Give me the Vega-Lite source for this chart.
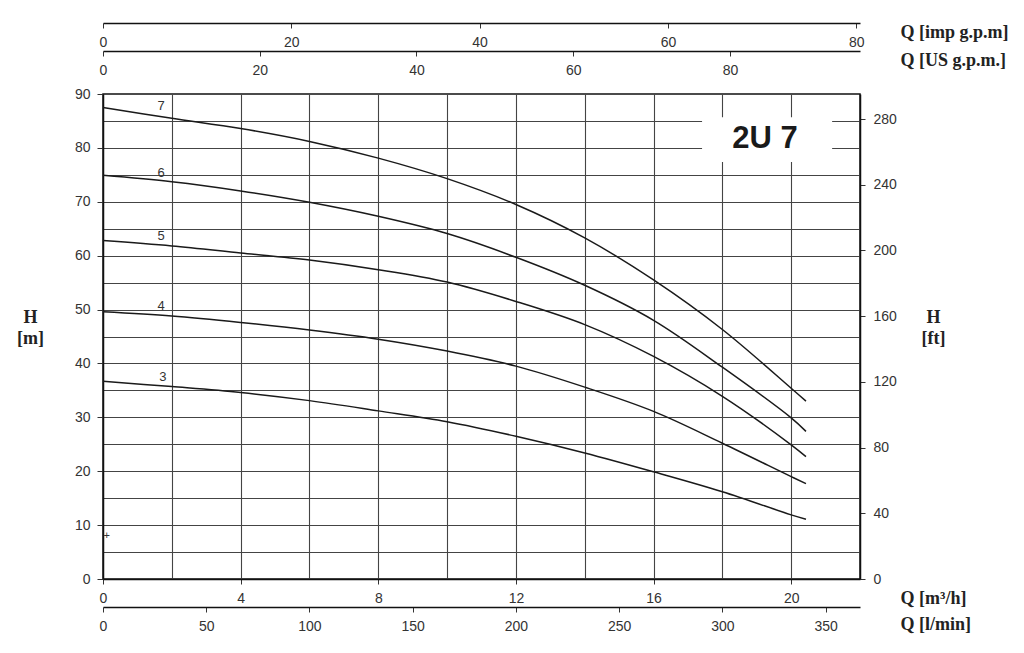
{
  "$schema": "https://vega.github.io/schema/vega-lite/v6.json",
  "autosize": "none",
  "width": 757,
  "height": 485,
  "padding": {"left": 103, "top": 94, "right": 164, "bottom": 74},
  "background": "white",
  "config": {
    "view": {"stroke": "#111", "strokeWidth": 1.5},
    "axis": {
      "labelFont": "Liberation Sans",
      "labelFontSize": 14,
      "labelColor": "#333",
      "tickColor": "#333",
      "domainColor": "#111",
      "titleFont": "Liberation Serif",
      "titleFontWeight": "bold",
      "titleFontSize": 18,
      "titleColor": "#222",
      "labelFlush": false,
      "labelOverlap": false
    }
  },
  "datasets": {
    "curves": [
      {"stages": 7, "Q": 0, "H": 87.5}, {"stages": 7, "Q": 2, "H": 85.5}, {"stages": 7, "Q": 4, "H": 83.6}, {"stages": 7, "Q": 6, "H": 81.2}, {"stages": 7, "Q": 8, "H": 78.1}, {"stages": 7, "Q": 10, "H": 74.3}, {"stages": 7, "Q": 12, "H": 69.5}, {"stages": 7, "Q": 14, "H": 63.3}, {"stages": 7, "Q": 16, "H": 55.5}, {"stages": 7, "Q": 18, "H": 46.3}, {"stages": 7, "Q": 20, "H": 35.4}, {"stages": 7, "Q": 20.43, "H": 33.0},
      {"stages": 6, "Q": 0, "H": 74.9}, {"stages": 6, "Q": 2, "H": 73.7}, {"stages": 6, "Q": 4, "H": 72.0}, {"stages": 6, "Q": 6, "H": 69.9}, {"stages": 6, "Q": 8, "H": 67.3}, {"stages": 6, "Q": 10, "H": 64.1}, {"stages": 6, "Q": 12, "H": 59.7}, {"stages": 6, "Q": 14, "H": 54.5}, {"stages": 6, "Q": 16, "H": 48.0}, {"stages": 6, "Q": 18, "H": 39.3}, {"stages": 6, "Q": 20, "H": 29.9}, {"stages": 6, "Q": 20.43, "H": 27.4},
      {"stages": 5, "Q": 0, "H": 62.8}, {"stages": 5, "Q": 2, "H": 61.8}, {"stages": 5, "Q": 4, "H": 60.5}, {"stages": 5, "Q": 6, "H": 59.2}, {"stages": 5, "Q": 8, "H": 57.4}, {"stages": 5, "Q": 10, "H": 55.1}, {"stages": 5, "Q": 12, "H": 51.5}, {"stages": 5, "Q": 14, "H": 47.2}, {"stages": 5, "Q": 16, "H": 41.3}, {"stages": 5, "Q": 18, "H": 33.9}, {"stages": 5, "Q": 20, "H": 24.9}, {"stages": 5, "Q": 20.43, "H": 22.7},
      {"stages": 4, "Q": 0, "H": 49.6}, {"stages": 4, "Q": 2, "H": 48.8}, {"stages": 4, "Q": 4, "H": 47.6}, {"stages": 4, "Q": 6, "H": 46.2}, {"stages": 4, "Q": 8, "H": 44.5}, {"stages": 4, "Q": 10, "H": 42.3}, {"stages": 4, "Q": 12, "H": 39.5}, {"stages": 4, "Q": 14, "H": 35.6}, {"stages": 4, "Q": 16, "H": 31.1}, {"stages": 4, "Q": 18, "H": 25.2}, {"stages": 4, "Q": 20, "H": 19.0}, {"stages": 4, "Q": 20.43, "H": 17.7},
      {"stages": 3, "Q": 0, "H": 36.7}, {"stages": 3, "Q": 2, "H": 35.7}, {"stages": 3, "Q": 4, "H": 34.6}, {"stages": 3, "Q": 6, "H": 33.1}, {"stages": 3, "Q": 8, "H": 31.2}, {"stages": 3, "Q": 10, "H": 29.2}, {"stages": 3, "Q": 12, "H": 26.5}, {"stages": 3, "Q": 14, "H": 23.4}, {"stages": 3, "Q": 16, "H": 19.9}, {"stages": 3, "Q": 18, "H": 16.2}, {"stages": 3, "Q": 20, "H": 11.9}, {"stages": 3, "Q": 20.43, "H": 11.1}
    ],
    "curveLabels": [
      {"label": "7", "Q": 1.69, "H": 87.8},
      {"label": "6", "Q": 1.69, "H": 75.4},
      {"label": "5", "Q": 1.69, "H": 63.6},
      {"label": "4", "Q": 1.69, "H": 50.6},
      {"label": "3", "Q": 1.74, "H": 37.5}
    ],
    "marker": [{"label": "+", "Q": 0.11, "H": 7.9}],
    "model": [{"label": "2U 7", "Q": 17.41, "Q2": 21.19, "H": 77.4, "H2": 85.7, "Qc": 19.24, "Hc": 81.7}],
    "axisRow": [{"k": 0}]
  },
  "layer": [
    {
      "data": {"name": "axisRow"},
      "mark": {"type": "point", "opacity": 0},
      "encoding": {
        "x": {"datum": 0, "type": "quantitative", "scale": {"domain": [0, 22], "nice": false, "zero": false},
          "axis": {"orient": "bottom", "grid": true, "values": [2, 4, 6, 8, 10, 12, 14, 16, 18, 20], "labels": false, "ticks": false, "domain": false, "title": null, "gridColor": "#444", "gridWidth": 1.1}},
        "y": {"datum": 0, "type": "quantitative", "scale": {"domain": [0, 90], "nice": false, "zero": false},
          "axis": {"orient": "left", "grid": true, "values": [5, 10, 15, 20, 25, 30, 35, 40, 45, 50, 55, 60, 65, 70, 75, 80, 85], "labels": false, "ticks": false, "domain": false, "title": null, "gridColor": "#444", "gridWidth": 1.1}}
      }
    },
    {
      "layer": [
        {
          "data": {"name": "curves"},
          "mark": {"type": "line", "interpolate": "catmull-rom", "color": "#1a1a1a", "strokeWidth": 1.5},
          "encoding": {
            "x": {"field": "Q", "type": "quantitative", "scale": {"domain": [0, 22], "nice": false, "zero": false}, "axis": null},
            "y": {"field": "H", "type": "quantitative", "scale": {"domain": [0, 90], "nice": false, "zero": false}, "axis": null},
            "detail": {"field": "stages", "type": "nominal"}
          }
        },
        {
          "data": {"name": "curveLabels"},
          "mark": {"type": "text", "font": "Liberation Sans", "fontSize": 13, "color": "#333", "baseline": "middle", "align": "center"},
          "encoding": {
            "x": {"field": "Q", "type": "quantitative", "axis": null},
            "y": {"field": "H", "type": "quantitative", "axis": null},
            "text": {"field": "label"}
          }
        },
        {
          "data": {"name": "marker"},
          "mark": {"type": "text", "font": "Liberation Sans", "fontSize": 11, "color": "#333", "baseline": "middle", "align": "center"},
          "encoding": {
            "x": {"field": "Q", "type": "quantitative", "axis": null},
            "y": {"field": "H", "type": "quantitative", "axis": null},
            "text": {"field": "label"}
          }
        },
        {
          "data": {"name": "model"},
          "mark": {"type": "rect", "color": "white"},
          "encoding": {
            "x": {"field": "Q", "type": "quantitative", "axis": null},
            "x2": {"field": "Q2"},
            "y": {"field": "H", "type": "quantitative", "axis": null},
            "y2": {"field": "H2"}
          }
        },
        {
          "data": {"name": "model"},
          "mark": {"type": "text", "font": "Liberation Sans", "fontWeight": "bold", "fontSize": 31, "color": "#1a1a1a", "baseline": "middle", "align": "center"},
          "encoding": {
            "x": {"field": "Qc", "type": "quantitative", "axis": null},
            "y": {"field": "Hc", "type": "quantitative", "axis": null},
            "text": {"field": "label"}
          }
        }
      ]
    },
    {
      "data": {"name": "axisRow"},
      "mark": {"type": "point", "opacity": 0},
      "encoding": {
        "x": {"datum": 0, "type": "quantitative", "scale": {"domain": [0, 22], "nice": false, "zero": false},
          "axis": {"orient": "bottom", "values": [0, 4, 8, 12, 16, 20], "tickSize": 5, "labelPadding": 7, "domainWidth": 1.5,
            "title": "Q [m³/h]", "titleAngle": 0, "titleX": 797, "titleY": 24, "titleAlign": "left", "titleBaseline": "alphabetic"}},
        "y": {"datum": 0, "type": "quantitative", "scale": {"domain": [0, 90], "nice": false, "zero": false},
          "axis": {"orient": "left", "values": [0, 10, 20, 30, 40, 50, 60, 70, 80, 90], "tickSize": 6, "labelPadding": 7, "domainWidth": 1.5,
            "title": ["H", "[m]"], "titleAngle": 0, "titleX": -73, "titleY": 228, "titleAlign": "center", "titleBaseline": "alphabetic", "titleLineHeight": 21}}
      }
    },
    {
      "data": {"name": "axisRow"},
      "mark": {"type": "point", "opacity": 0},
      "encoding": {
        "x": {"datum": 0, "type": "quantitative", "scale": {"domain": [0, 366.67], "nice": false, "zero": false},
          "axis": {"orient": "bottom", "offset": 28, "values": [0, 50, 100, 150, 200, 250, 300, 350], "tickSize": 5, "labelPadding": 7, "domainWidth": 1.5,
            "title": "Q [l/min]", "titleAngle": 0, "titleX": 797, "titleY": 22, "titleAlign": "left", "titleBaseline": "alphabetic"}},
        "y": {"datum": 0, "type": "quantitative", "scale": {"domain": [0, 295.28], "nice": false, "zero": false},
          "axis": {"orient": "right", "values": [0, 40, 80, 120, 160, 200, 240, 280], "tickSize": 5, "labelPadding": 8, "domainWidth": 1.5,
            "title": ["H", "[ft]"], "titleAngle": 0, "titleX": 73, "titleY": 228, "titleAlign": "center", "titleBaseline": "alphabetic", "titleLineHeight": 21}}
      }
    },
    {
      "data": {"name": "axisRow"},
      "mark": {"type": "point", "opacity": 0},
      "encoding": {
        "x": {"datum": 0, "type": "quantitative", "scale": {"domain": [0, 80.4], "nice": false, "zero": false},
          "axis": {"orient": "bottom", "offset": -556, "values": [0, 20, 40, 60, 80], "tickSize": 5, "labelPadding": 7, "domainWidth": 1.5,
            "title": "Q [imp g.p.m]", "titleAngle": 0, "titleX": 797, "titleY": 14, "titleAlign": "left", "titleBaseline": "alphabetic"}}
      }
    },
    {
      "data": {"name": "axisRow"},
      "mark": {"type": "point", "opacity": 0},
      "encoding": {
        "x": {"datum": 0, "type": "quantitative", "scale": {"domain": [0, 96.6], "nice": false, "zero": false},
          "axis": {"orient": "bottom", "offset": -528, "values": [0, 20, 40, 60, 80], "tickSize": 5, "labelPadding": 7, "domainWidth": 1.5,
            "title": "Q [US g.p.m.]", "titleAngle": 0, "titleX": 797, "titleY": 14, "titleAlign": "left", "titleBaseline": "alphabetic"}}
      }
    }
  ],
  "resolve": {"scale": {"x": "independent", "y": "independent"}, "axis": {"x": "independent", "y": "independent"}}
}
